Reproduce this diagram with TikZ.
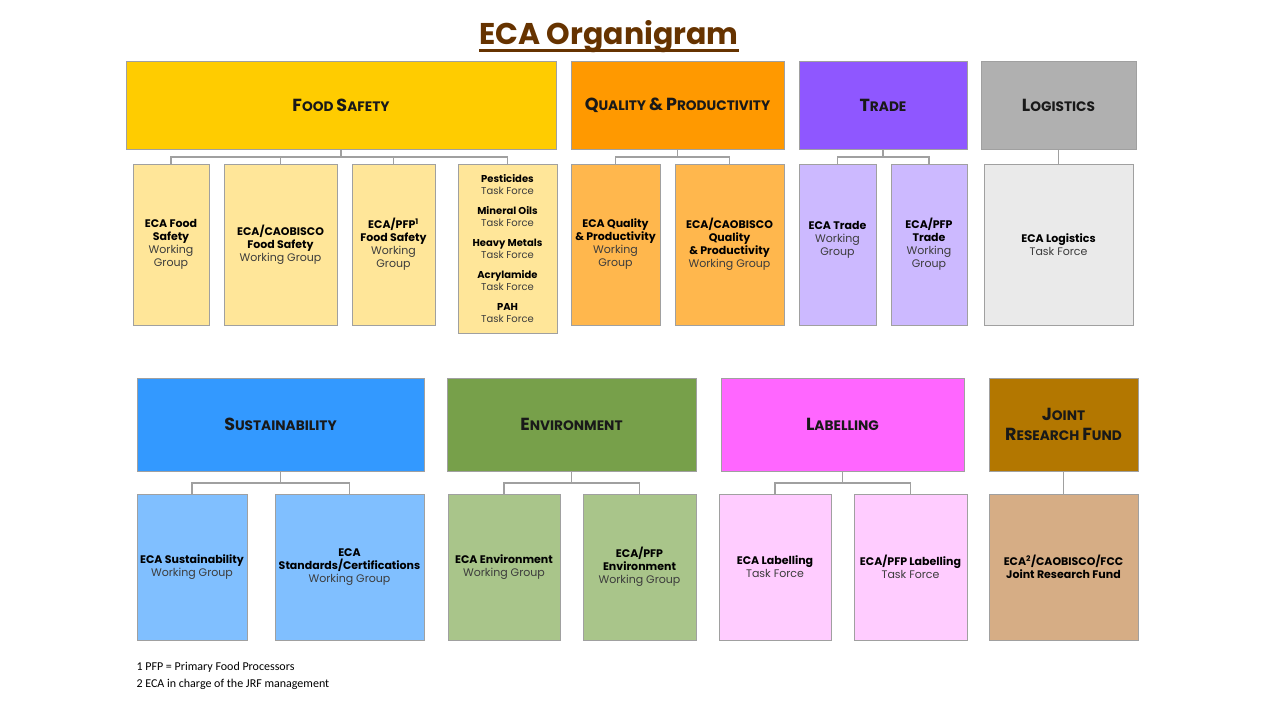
\documentclass[tikz,border=0pt]{standalone}
\usepackage{fontspec}
\setmainfont{Poppins}
\newfontfamily\notefont{Carlito}
\definecolor{titlebrown}{HTML}{663300}
\definecolor{fsH}{HTML}{FFCC00}\definecolor{fsC}{HTML}{FFE699}
\definecolor{qpH}{HTML}{FF9900}\definecolor{qpC}{HTML}{FFB74D}
\definecolor{trH}{HTML}{8F57FF}\definecolor{trC}{HTML}{CCB9FF}
\definecolor{loH}{HTML}{B0B0B0}\definecolor{loC}{HTML}{EAEAEA}
\definecolor{suH}{HTML}{3399FF}\definecolor{suC}{HTML}{80BFFF}
\definecolor{enH}{HTML}{77A04A}\definecolor{enC}{HTML}{A9C58A}
\definecolor{laH}{HTML}{FF66FF}\definecolor{laC}{HTML}{FFCCFF}
\definecolor{jrH}{HTML}{B37700}\definecolor{jrC}{HTML}{D6AD85}
\definecolor{txtgray}{HTML}{3C3C3C}
\definecolor{bordergray}{HTML}{A0A0A0}
\newcommand\SCp[2]{{\fontsize{17.5}{17.5}\selectfont #1}{\fontsize{13.7}{13.7}\selectfont #2}}
\newcommand\rg[1]{\textcolor{txtgray}{#1}}
\begin{document}
\begin{tikzpicture}[x=1pt,y=-1pt,
  box/.style={draw=bordergray,line width=0.9pt,anchor=north west,inner sep=0pt,outer sep=0pt,align=center},
  hdr/.style={box,font=\fontsize{14}{17}\selectfont\bfseries,text=black!90},
  child/.style={box,font=\fontsize{11}{13}\selectfont,text=black},
  conn/.style={draw=bordergray,line width=1.3pt}]
\useasboundingbox[fill=white] (0,0) rectangle (1280,720);
\node[font=\fontsize{30}{34}\selectfont\bfseries,text=titlebrown,anchor=base,inner sep=0pt] (title) at (609,44) {ECA Organigram};
\draw[titlebrown,line width=2.2pt] (title.west |- 0,50.5) -- (title.east |- 0,50.5);
% top headers
\node[hdr,fill=fsH,minimum width=430pt,minimum height=88pt] (fs) at (126,61) {\SCp{F}{OOD} \SCp{S}{AFETY}};
\node[hdr,fill=qpH,minimum width=213pt,minimum height=88pt] (qp) at (571,61) {\SCp{Q}{UALITY} \SCp{\&}{} \SCp{P}{RODUCTIVITY}};
\node[hdr,fill=trH,minimum width=168pt,minimum height=88pt] (tr) at (799,61) {\SCp{T}{RADE}};
\node[hdr,fill=loH,minimum width=155pt,minimum height=88pt] (lo) at (981,61) {\SCp{L}{OGISTICS}};
% top children
\node[child,fill=fsC,minimum width=76pt,minimum height=161pt] (fs1) at (133,164) {\textbf{ECA Food}\\\textbf{Safety}\\\rg{Working}\\\rg{Group}};
\node[child,fill=fsC,minimum width=113pt,minimum height=161pt] (fs2) at (224,164) {\textbf{ECA/CAOBISCO}\\\textbf{Food Safety}\\\rg{Working Group}};
\node[child,fill=fsC,minimum width=83pt,minimum height=161pt] (fs3) at (352,164) {\textbf{ECA/PFP\textsuperscript{1}}\\\textbf{Food Safety}\\\rg{Working}\\\rg{Group}};
\node[child,fill=fsC,minimum width=99pt,minimum height=169pt,font=\fontsize{10}{12}\selectfont] (fs4) at (458,164) {\textbf{Pesticides}\\\rg{Task Force}\\[8pt]\textbf{Mineral Oils}\\\rg{Task Force}\\[8pt]\textbf{Heavy Metals}\\\rg{Task Force}\\[8pt]\textbf{Acrylamide}\\\rg{Task Force}\\[8pt]\textbf{PAH}\\\rg{Task Force}};
\node[child,fill=qpC,minimum width=89pt,minimum height=161pt] (qp1) at (571,164) {\textbf{ECA Quality}\\\textbf{\& Productivity}\\\rg{Working}\\\rg{Group}};
\node[child,fill=qpC,minimum width=109pt,minimum height=161pt] (qp2) at (675,164) {\textbf{ECA/CAOBISCO}\\\textbf{Quality}\\\textbf{\& Productivity}\\\rg{Working Group}};
\node[child,fill=trC,minimum width=77pt,minimum height=161pt] (tr1) at (799,164) {\textbf{ECA Trade}\\\rg{Working}\\\rg{Group}\\~};
\node[child,fill=trC,minimum width=76pt,minimum height=161pt] (tr2) at (891,164) {\textbf{ECA/PFP}\\\textbf{Trade}\\\rg{Working}\\\rg{Group}};
\node[child,fill=loC,minimum width=149pt,minimum height=161pt] (lo1) at (984,164) {\textbf{ECA Logistics}\\\rg{Task Force}};
% bottom headers
\node[hdr,fill=suH,minimum width=287pt,minimum height=93pt] (su) at (137,378) {\SCp{S}{USTAINABILITY}};
\node[hdr,fill=enH,minimum width=249pt,minimum height=93pt] (en) at (447,378) {\SCp{E}{NVIRONMENT}};
\node[hdr,fill=laH,minimum width=243pt,minimum height=93pt] (la) at (721,378) {\SCp{L}{ABELLING}};
\node[hdr,fill=jrH,minimum width=149pt,minimum height=93pt] (jr) at (989,378) {\SCp{J}{OINT}\\[3pt]\SCp{R}{ESEARCH} \SCp{F}{UND}};
% bottom children
\node[child,fill=suC,minimum width=110pt,minimum height=146pt] (su1) at (137,494) {\textbf{ECA Sustainability}\\\rg{Working Group}};
\node[child,fill=suC,minimum width=149pt,minimum height=146pt] (su2) at (275,494) {\textbf{ECA}\\\textbf{Standards/Certifications}\\\rg{Working Group}};
\node[child,fill=enC,minimum width=112pt,minimum height=146pt] (en1) at (448,494) {\textbf{ECA Environment}\\\rg{Working Group}};
\node[child,fill=enC,minimum width=113pt,minimum height=146pt] (en2) at (583,494) {\textbf{ECA/PFP}\\\textbf{Environment}\\\rg{Working Group}};
\node[child,fill=laC,minimum width=112pt,minimum height=146pt] (la1) at (719,494) {\textbf{ECA Labelling}\\\rg{Task Force}};
\node[child,fill=laC,minimum width=113pt,minimum height=146pt] (la2) at (854,494) {\textbf{ECA/PFP Labelling}\\\rg{Task Force}};
\node[child,fill=jrC,minimum width=149pt,minimum height=146pt] (jr1) at (989,494) {\textbf{ECA\textsuperscript{2}/CAOBISCO/FCC}\\\textbf{Joint Research Fund}};
% connectors top
\foreach \c in {fs1,fs2,fs3,fs4} \draw[conn] (fs.south) -- ++(0,8) -| (\c.north);
\foreach \c in {qp1,qp2} \draw[conn] (qp.south) -- ++(0,8) -| (\c.north);
\foreach \c in {tr1,tr2} \draw[conn] (tr.south) -- ++(0,8) -| (\c.north);
\draw[conn] (lo.south) -- (lo.south |- lo1.north);
% connectors bottom
\foreach \c in {su1,su2} \draw[conn] (su.south) -- ++(0,12) -| (\c.north);
\foreach \c in {en1,en2} \draw[conn] (en.south) -- ++(0,12) -| (\c.north);
\foreach \c in {la1,la2} \draw[conn] (la.south) -- ++(0,12) -| (\c.north);
\draw[conn] (jr.south) -- (jr1.north);
% footnotes
\node[anchor=west,font=\notefont\fontsize{12}{14}\selectfont,text=black] (n1) at (133,667) {1 PFP = Primary Food Processors};
\node[anchor=west,font=\notefont\fontsize{12}{14}\selectfont,text=black] (n2) at (133,684) {2 ECA in charge of the JRF management};
\end{tikzpicture}
\end{document}
